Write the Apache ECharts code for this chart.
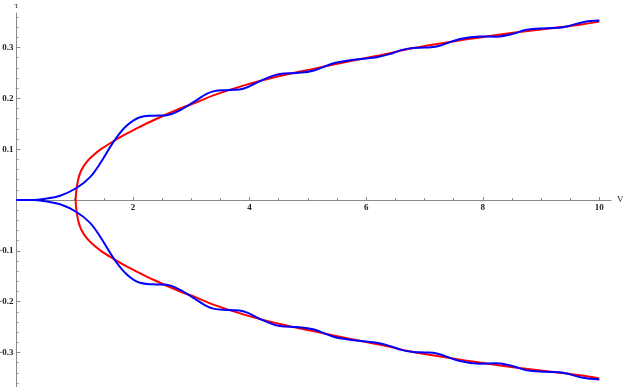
<!DOCTYPE html>
<html>
<head>
<meta charset="utf-8">
<script src="https://cdn.jsdelivr.net/npm/echarts@6/dist/echarts.min.js"></script>
<style>
  html, body { margin: 0; padding: 0; background: #fff; }
  #chart { width: 623px; height: 387px; }
</style>
</head>
<body>
<div id="chart"></div>
<script>
// upper branch of the red curve (lower branch is its mirror)
const redV = [1.017, 1.025, 1.04, 1.07, 1.12, 1.20, 1.30, 1.45, 1.68, 1.85, 2.0, 2.35, 2.81, 3.09, 3.377, 3.95, 4.52, 5.09, 5.67, 6.24, 6.81, 7.38, 7.95, 8.52, 9.1, 9.67, 10.0];
const redTau = [0, 0.015, 0.028, 0.045, 0.060, 0.074, 0.086, 0.100, 0.1167, 0.128, 0.137, 0.157, 0.180, 0.192, 0.206, 0.227, 0.244, 0.258, 0.272, 0.285, 0.299, 0.310, 0.320, 0.329, 0.337, 0.345, 0.351];

// upper branch of the blue curve
const blueV = [0, 0.3, 0.46, 0.75, 1.03, 1.26, 1.43, 1.68, 1.89, 2.12, 2.35, 2.58, 2.81, 3.03, 3.377, 3.66, 3.89, 4.235, 4.52, 4.81, 5.09, 5.44, 5.67, 5.95, 6.18, 6.40, 6.60, 6.80, 7.0, 7.21, 7.61, 7.95, 8.24, 8.52, 8.75, 9.1, 9.38, 9.72, 10.0];
const blueTau = [0, 0, 0.002, 0.0085, 0.0236, 0.0445, 0.0709, 0.1167, 0.146, 0.163, 0.166, 0.167, 0.177, 0.192, 0.2138, 0.2165, 0.219, 0.237, 0.248, 0.250, 0.2545, 0.269, 0.274, 0.278, 0.281, 0.287, 0.295, 0.299, 0.300, 0.302, 0.317, 0.322, 0.3215, 0.327, 0.335, 0.338, 0.340, 0.350, 0.353];

const xTicks = [2, 4, 6, 8, 10];
const xMinorTicks = [0.5, 1, 1.5, 2.5, 3, 3.5, 4.5, 5, 5.5, 6.5, 7, 7.5, 8.5, 9, 9.5];
const yTicks = [-0.3, -0.2, -0.1, 0.1, 0.2, 0.3];
const yMinorTicks = [];
for (let i = -18; i <= 18; i++) {
  if (i % 5 !== 0) yMinorTicks.push(+(i * 0.02).toFixed(2));
}

const redData = [];
for (let i = redV.length - 1; i > 0; i--) redData.push([redV[i], -redTau[i]]);
for (let i = 0; i < redV.length; i++) redData.push([redV[i], redTau[i]]);
const blueUpper = blueV.map((v, i) => [v, blueTau[i]]);
const blueLower = blueV.map((v, i) => [v, -blueTau[i]]);

const axisColor = "#8a8a8a";
const labelStyle = {
  fontFamily: "Liberation Serif",
  fontSize: 9,
  fontWeight: "bold",
  color: "#222",
};
// x axis sits at tau = 0, i.e. 187px above the grid bottom
const xOffset = -187;

const chart = echarts.init(document.getElementById("chart"));
chart.setOption({
  backgroundColor: "#fff",
  animation: false,
  grid: {
    left: 16.4,
    top: 13,
    width: 594.6,
    height: 374,
    outerBoundsMode: "none",
  },
  xAxis: [
    {
      type: "value",
      min: 0,
      max: 10.2,
      position: "bottom",
      offset: xOffset,
      name: "V",
      nameLocation: "end",
      nameGap: 6,
      nameTextStyle: { fontFamily: "Liberation Serif", fontSize: 9, color: "#222" },
      axisLine: { onZero: false, lineStyle: { color: axisColor, width: 1 } },
      axisTick: { inside: true, length: 3, customValues: xTicks, lineStyle: { color: axisColor } },
      axisLabel: {
        ...labelStyle,
        margin: 3,
        customValues: xTicks,
        formatter: (v) => String(v),
      },
      splitLine: { show: false },
    },
    {
      type: "value",
      min: 0,
      max: 10.2,
      position: "bottom",
      offset: xOffset,
      axisLine: { show: false, onZero: false },
      axisTick: { inside: true, length: 2, customValues: xMinorTicks, lineStyle: { color: axisColor } },
      axisLabel: { show: false },
      splitLine: { show: false },
    },
  ],
  yAxis: [
    {
      type: "value",
      min: -0.368,
      max: 0.368,
      position: "left",
      name: "τ",
      nameLocation: "end",
      nameGap: 3,
      nameTextStyle: { fontFamily: "Liberation Serif", fontSize: 9, color: "#222" },
      axisLine: { show: true, onZero: false, lineStyle: { color: axisColor, width: 1 } },
      axisTick: { show: true, inside: true, length: 4, customValues: yTicks, lineStyle: { color: axisColor } },
      axisLabel: {
        ...labelStyle,
        margin: 3,
        customValues: yTicks,
        formatter: (v) => (v < 0 ? "\u2212" + (-v).toFixed(1) : v.toFixed(1)),
      },
      splitLine: { show: false },
    },
    {
      type: "value",
      min: -0.368,
      max: 0.368,
      position: "left",
      axisLine: { show: false, onZero: false },
      axisTick: { show: true, inside: true, length: 2, customValues: yMinorTicks, lineStyle: { color: axisColor } },
      axisLabel: { show: false },
      splitLine: { show: false },
    },
  ],
  series: [
    {
      name: "red",
      type: "line",
      data: redData,
      smooth: 0.35,
      showSymbol: false,
      lineStyle: { color: "#ff0000", width: 2 },
      z: 2,
    },
    {
      name: "blue upper",
      type: "line",
      data: blueUpper,
      smooth: 0.4,
      showSymbol: false,
      lineStyle: { color: "#0000ff", width: 2 },
      z: 3,
    },
    {
      name: "blue lower",
      type: "line",
      data: blueLower,
      smooth: 0.4,
      showSymbol: false,
      lineStyle: { color: "#0000ff", width: 2 },
      z: 3,
    },
  ],
});
window.addEventListener("resize", () => chart.resize());
</script>
</body>
</html>
